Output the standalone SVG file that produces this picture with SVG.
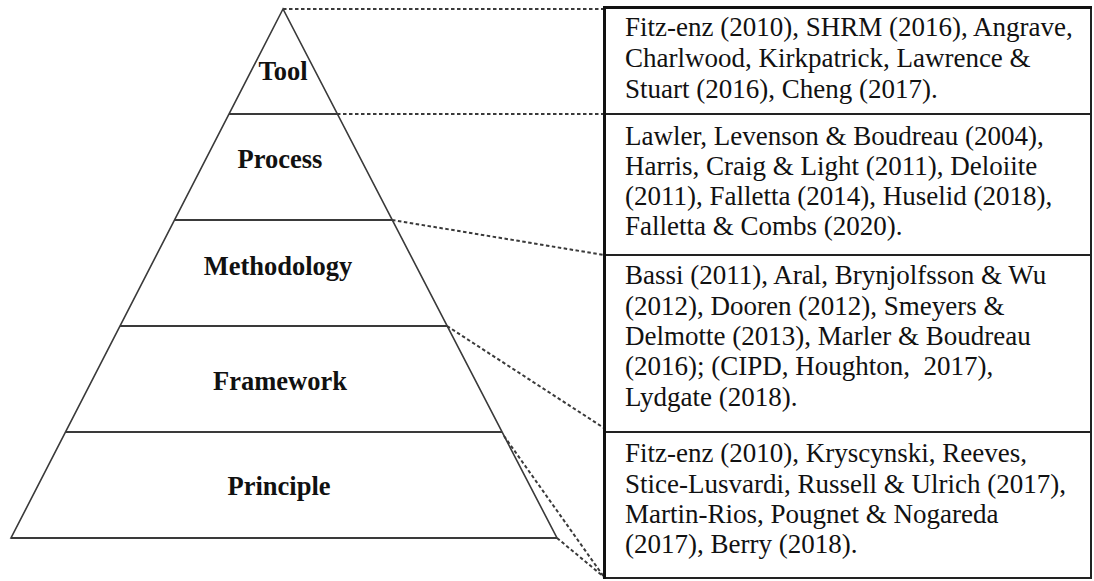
<svg xmlns="http://www.w3.org/2000/svg" width="1094" height="581" viewBox="0 0 1094 581">
<style>
.edge{stroke:#3a3a3a;stroke-width:1.6;fill:none}
.band{stroke:#3a3a3a;stroke-width:2.2;fill:none}
.dot{stroke:#3a3a3a;stroke-width:2;stroke-dasharray:3.5 2.5;fill:none}
.lbl{font-family:"Liberation Serif","Times New Roman",serif;font-weight:bold;font-size:26.5px;fill:#111;text-anchor:middle}
.ref{font-family:"Liberation Serif","Times New Roman",serif;font-size:27px;fill:#111}
.cell{fill:#fff;stroke:#222;stroke-width:2}
</style>
<rect x="0" y="0" width="1094" height="581" fill="#fff"/>
<g id="connectors">
<line class="dot" x1="283" y1="9" x2="604" y2="9"/>
<line class="dot" x1="337" y1="114" x2="604" y2="114"/>
<line class="dot" x1="392" y1="220" x2="604" y2="255"/>
<line class="dot" x1="447" y1="326" x2="604" y2="428"/>
<line class="dot" x1="504" y1="436" x2="604" y2="577"/>
<line class="dot" x1="557" y1="538" x2="604" y2="577"/>
</g>
<g id="pyramid">
<path class="edge" d="M283 9 L11 538 L557 538 Z"/>
</g>
<g id="tool">
<line class="band" x1="229" y1="114" x2="337" y2="114"/>
<text class="lbl" x="283" y="80">Tool</text>
</g>
<g id="process">
<line class="band" x1="175" y1="220" x2="392" y2="220"/>
<text class="lbl" x="280" y="168">Process</text>
</g>
<g id="methodology">
<line class="band" x1="120" y1="326" x2="447" y2="326"/>
<text class="lbl" x="278" y="275">Methodology</text>
</g>
<g id="framework">
<line class="band" x1="66" y1="432" x2="502" y2="432"/>
<text class="lbl" x="280" y="390">Framework</text>
</g>
<g id="principle">
<line class="band" x1="11" y1="538" x2="557" y2="538"/>
<text class="lbl" x="279" y="495">Principle</text>
</g>
<g id="refs-tool">
<rect class="cell" x="605" y="8" width="486" height="106"/>
<text class="ref" x="625" y="36">Fitz-enz (2010), SHRM (2016), Angrave,</text>
<text class="ref" x="625" y="67">Charlwood, Kirkpatrick, Lawrence &amp;</text>
<text class="ref" x="625" y="98">Stuart (2016), Cheng (2017).</text>
</g>
<g id="refs-process">
<rect class="cell" x="605" y="114" width="486" height="141"/>
<text class="ref" x="625" y="145">Lawler, Levenson &amp; Boudreau (2004),</text>
<text class="ref" x="625" y="175">Harris, Craig &amp; Light (2011), Deloiite</text>
<text class="ref" x="625" y="205">(2011), Falletta (2014), Huselid (2018),</text>
<text class="ref" x="625" y="235">Falletta &amp; Combs (2020).</text>
</g>
<g id="refs-methodology">
<rect class="cell" x="605" y="255" width="486" height="177"/>
<text class="ref" x="625" y="284">Bassi (2011), Aral, Brynjolfsson &amp; Wu</text>
<text class="ref" x="625" y="315">(2012), Dooren (2012), Smeyers &amp;</text>
<text class="ref" x="625" y="345">Delmotte (2013), Marler &amp; Boudreau</text>
<text class="ref" x="625" y="375" xml:space="preserve">(2016); (CIPD, Houghton,  2017),</text>
<text class="ref" x="625" y="406">Lydgate (2018).</text>
</g>
<g id="refs-principle">
<rect class="cell" x="605" y="432" width="486" height="146"/>
<text class="ref" x="625" y="462">Fitz-enz (2010), Kryscynski, Reeves,</text>
<text class="ref" x="625" y="493">Stice-Lusvardi, Russell &amp; Ulrich (2017),</text>
<text class="ref" x="625" y="523">Martin-Rios, Pougnet &amp; Nogareda</text>
<text class="ref" x="625" y="553">(2017), Berry (2018).</text>
</g>
<g id="frame">
<line x1="604.5" y1="7" x2="604.5" y2="579" stroke="#111" stroke-width="3"/>
<line x1="603" y1="7.5" x2="1092" y2="7.5" stroke="#111" stroke-width="3"/>
</g>
</svg>
